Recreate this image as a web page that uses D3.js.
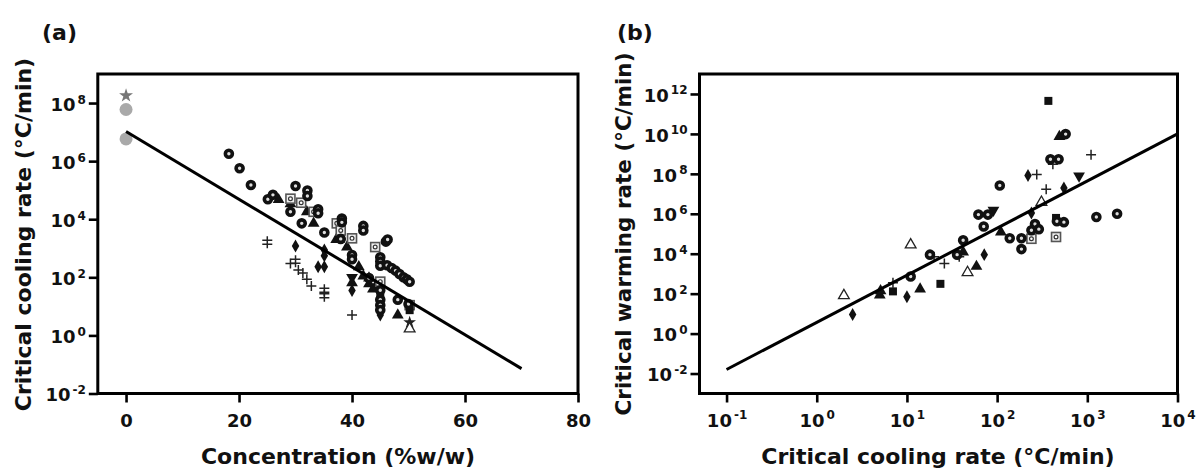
<!DOCTYPE html>
<html><head><meta charset="utf-8">
<script src="https://cdn.jsdelivr.net/npm/d3@7"></script>
<style>
body{margin:0;background:#fff}
text{font-family:"DejaVu Sans",sans-serif;font-weight:bold;fill:#111}
</style>
</head><body><svg id="c" width="1198" height="472"></svg>
<script>
// ---------------- Panel (a): concentration (%w/w) vs critical cooling rate (°C/min)
const aXTicks = [0, 20, 40, 60, 80];
const aYTickExps = [-2, 0, 2, 4, 6, 8];
const aRing = [[18.2,1.8e6],[20.1,5.7e5],[22.1,1.5e5],[25.1,4.9e4],[26.0,6.9e4],[29.1,1.8e4],[30.0,1.4e5],[31.1,7.2e3],[32.1,9.8e4],[32.1,6.3e4],[34.0,2.2e4],[34.0,1.6e4],[35.1,3.5e3],[38.0,2.1e3],[38.2,1.05e4],[38.2,7.8e3],[40.0,5.9e2],[40.0,4.2e2],[42.0,5.9e3],[42.0,4.1e3],[45.0,4.9e2],[45.0,3.5e2],[45.0,2.5e2],[46.0,1.7e3],[46.3,2.0e3],[46.2,2.6e2],[47.0,2.1e2],[47.7,1.7e2],[48.4,1.3e2],[49.1,1.0e2],[49.7,8.5e1],[50.2,7.0e1],[45.0,3.6e1],[45.0,1.7e1],[45.0,1.1e1],[45.0,7.5],[48.1,1.7e1],[43.0,9.5e1],[50.0,1.2e1]];
const aTri = [[27.0,4.7e4],[29.1,3.4e4],[32.0,1.8e4],[33.2,7.2e3],[37.2,2.0e3],[37.7,2.0e3],[39.1,1.1e3],[41.2,2.3e2],[42.0,1.1e2],[43.0,9.4e1],[43.0,5.9e1],[43.7,3.9e1],[44.1,4.6e1],[48.1,5.0],[40.0,6.5e1]];
const aInvTri = [[40.0,1.0e2]];
const aDotSq = [[29.1,5.1e4],[31.0,3.7e4],[33.2,1.8e4],[37.3,7.2e3],[38.0,4.1e3],[40.0,2.2e3],[44.1,1.1e3],[45.0,7.1e1],[50.2,1.1e1]];
const aSq = [[45.0,2.5e1],[50.2,7.4]];
const aDiamond = [[30.0,1.2e3],[35.1,8.7e2],[35.1,5.5e2],[34.0,2.3e2],[35.1,2.3e2],[40.0,3.5e1],[45.0,5.0]];
const aPlus = [[29.1,3.0e2],[30.5,1.8e2],[31.3,1.4e2],[32.0,8.5e1],[32.8,5.0e1],[40.0,5.0]];
const aDPlus = [[25.0,1.6e3],[30.0,3.6e2],[35.1,3.6e1],[35.1,2.3e1]];
const aStar = [[50.2,2.8]];
const aOpenTri = [[50.2,1.7]];
const aGrayStar = [[0,1.8e8]];
const aGrayCircle = [[0,6.0e7],[0,5.8e6]];
const aFit = [[0,1.05e7],[70,7.2e-2]];

// ---------------- Panel (b): critical cooling rate vs critical warming rate (°C/min)
const bXTickExps = [-1, 0, 1, 2, 3, 4];
const bYTickExps = [-2, 0, 2, 4, 6, 8, 10, 12];
const bRing = [[11,7.2e2],[18,9e3],[36,9e3],[42,4.7e4],[71,2.3e5],[62,9.1e5],[79,9.1e5],[107,2.6e7],[138,6e4],[186,6e4],[186,1.7e4],[263,3.1e5],[240,1.5e5],[290,1.7e5],[390,5.4e8],[480,5.4e8],[575,9.8e9],[460,4.2e5],[550,3.8e5],[1260,6.9e5],[2140,1.0e6]];
const bOpenTri = [[2.0,80],[11,2.8e4],[47,1.15e3],[310,3.8e6]];
const bDiamond = [[2.5,9],[10,70],[72,9e3],[220,8.3e7],[240,1.1e6],[550,1.95e7]];
const bTri = [[5,85],[5.1,1.4e2],[14,1.7e2],[42,1.2e4],[59,2.3e3],[110,1.2e5],[490,7.4e9]];
const bSq = [[7,1.3e2],[23.5,3.1e2],[370,4.5e11],[450,6.2e5]];
const bDotSq = [[240,5.6e4],[450,6.9e4]];
const bInvTri = [[91,1.5e6],[810,7.8e7]];
const bPlus = [[7,3.5e2],[20,7e3],[26,3.2e3],[38,7e3],[275,9.3e7],[350,1.7e7],[415,3.0e8],[1100,9.1e8]];
const bFit = [[0.1,1.6e-2],[1e4,1.0e10]];

const svg = d3.select("#c");

function marker(g, type, x, y) {
  const t = `translate(${x},${y})`;
  switch (type) {
    case "ring":
      g.append("circle").attr("cx", x).attr("cy", y).attr("r", 3.5)
        .attr("fill", "#ddd").attr("stroke", "#111").attr("stroke-width", 3.6); break;
    case "tri":
      g.append("path").attr("d", d3.symbol(d3.symbolTriangle, 60)()).attr("transform", t).attr("fill", "#111"); break;
    case "invtri":
      g.append("path").attr("d", d3.symbol(d3.symbolTriangle, 60)()).attr("transform", t + " rotate(180)").attr("fill", "#111"); break;
    case "opentri":
      g.append("path").attr("d", d3.symbol(d3.symbolTriangle, 50)()).attr("transform", t)
        .attr("fill", "#fff").attr("stroke", "#222").attr("stroke-width", 1.3); break;
    case "sq":
      g.append("path").attr("d", d3.symbol(d3.symbolSquare, 64)()).attr("transform", t).attr("fill", "#111"); break;
    case "dotsq":
      g.append("rect").attr("x", x - 4.5).attr("y", y - 4.5).attr("width", 9).attr("height", 9)
        .attr("fill", "#eee").attr("stroke", "#555").attr("stroke-width", 1.6);
      g.append("circle").attr("cx", x).attr("cy", y).attr("r", 1.9).attr("fill", "#fff")
        .attr("stroke", "#333").attr("stroke-width", 1.2); break;
    case "diamond":
      g.append("path").attr("d", d3.symbol(d3.symbolDiamond, 48)()).attr("transform", t).attr("fill", "#111"); break;
    case "plus":
      g.append("path").attr("d", "M-5,0H5M0,-5V5").attr("transform", t)
        .attr("stroke", "#222").attr("stroke-width", 1.5).attr("fill", "none"); break;
    case "dplus":
      g.append("path").attr("d", "M-5,-2H5M-5,2H5M0,-6V6").attr("transform", t)
        .attr("stroke", "#222").attr("stroke-width", 1.5).attr("fill", "none"); break;
    case "star":
      g.append("path").attr("d", d3.symbol(d3.symbolStar, 50)()).attr("transform", t).attr("fill", "#222"); break;
    case "graystar":
      g.append("path").attr("d", d3.symbol(d3.symbolStar, 60)()).attr("transform", t).attr("fill", "#777"); break;
    case "graycircle":
      g.append("circle").attr("cx", x).attr("cy", y).attr("r", 6.5).attr("fill", "#a9a9a9"); break;
  }
}

function supLabel(sel, exp) {
  sel.text(null);
  sel.append("tspan").text("10");
  sel.append("tspan").attr("font-size", "12px").attr("dy", "-0.6em").attr("dx", "2").text(exp);
}

function frame(g, L, R, T, B) {
  g.append("rect").attr("x", L).attr("y", T).attr("width", R - L).attr("height", B - T)
    .attr("fill", "none").attr("stroke", "#000").attr("stroke-width", 3);
}

function styleAxis(ax) {
  ax.select(".domain").remove();
  ax.selectAll(".tick line").attr("stroke", "#000").attr("stroke-width", 2.6);
}

// ===== Panel (a)
{
  const L = 97.8, R = 578, T = 74, B = 393.5;
  const x = d3.scaleLinear().domain([-5, 80]).range([L, R]);
  const y = d3.scaleLog().domain([1e-2, 1e9]).range([B, T]);
  const g = svg.append("g");
  frame(g, L, R, T, B);

  const xa = g.append("g").attr("transform", `translate(0,${B})`)
    .call(d3.axisBottom(x).tickValues(aXTicks).tickSize(9).tickSizeOuter(0).tickFormat(d3.format("d")));
  styleAxis(xa);
  xa.selectAll(".tick text").attr("font-size", "18px").attr("y", 33).attr("dy", 0)
    .attr("font-family", "DejaVu Sans").attr("font-weight", "bold").attr("fill", "#111");

  const ya = g.append("g").attr("transform", `translate(${L},0)`)
    .call(d3.axisLeft(y).tickValues(aYTickExps.map(e => Math.pow(10, e))).tickSize(9).tickSizeOuter(0));
  styleAxis(ya);
  ya.selectAll(".tick text").each(function(d, i) {
    const s = d3.select(this).attr("font-size", "18px").attr("x", -12).attr("dy", "0.4em")
      .attr("font-family", "DejaVu Sans").attr("font-weight", "bold").attr("fill", "#111");
    supLabel(s, aYTickExps[i]);
  });

  const series = [["graystar", aGrayStar], ["graycircle", aGrayCircle], ["plus", aPlus], ["dplus", aDPlus],
    ["diamond", aDiamond], ["tri", aTri], ["invtri", aInvTri], ["dotsq", aDotSq], ["sq", aSq],
    ["ring", aRing], ["star", aStar], ["opentri", aOpenTri]];
  const mg = g.append("g");
  series.forEach(([type, pts]) => pts.forEach(p => marker(mg, type, x(p[0]), y(p[1]))));

  g.append("path").datum(aFit)
    .attr("d", d3.line().x(d => x(d[0])).y(d => y(d[1])))
    .attr("stroke", "#000").attr("stroke-width", 3).attr("fill", "none");

  g.append("text").attr("x", 42).attr("y", 40).attr("font-size", "22px").text("(a)");
  g.append("text").attr("transform", "translate(31,234.5) rotate(-90)").attr("text-anchor", "middle")
    .attr("font-size", "22px").text("Critical cooling rate (°C/min)");
  g.append("text").attr("x", 338).attr("y", 464).attr("text-anchor", "middle")
    .attr("font-size", "22px").text("Concentration (%w/w)");
}

// ===== Panel (b)
{
  const L = 699.5, R = 1177.5, T = 74, B = 393.5;
  const x = d3.scaleLog().domain([Math.pow(10, -1.3), 1e4]).range([L, R]);
  const y = d3.scaleLog().domain([1e-3, 1e13]).range([B, T]);
  const g = svg.append("g");
  frame(g, L, R, T, B);

  const xa = g.append("g").attr("transform", `translate(0,${B})`)
    .call(d3.axisBottom(x).tickValues(bXTickExps.map(e => Math.pow(10, e))).tickSize(9).tickSizeOuter(0));
  styleAxis(xa);
  xa.selectAll(".tick text").each(function(d, i) {
    const s = d3.select(this).attr("font-size", "18px").attr("y", 33).attr("dy", 0)
      .attr("font-family", "DejaVu Sans").attr("font-weight", "bold").attr("fill", "#111");
    supLabel(s, bXTickExps[i]);
  });

  const ya = g.append("g").attr("transform", `translate(${L},0)`)
    .call(d3.axisLeft(y).tickValues(bYTickExps.map(e => Math.pow(10, e))).tickSize(9).tickSizeOuter(0));
  styleAxis(ya);
  ya.selectAll(".tick text").each(function(d, i) {
    const s = d3.select(this).attr("font-size", "18px").attr("x", -12).attr("dy", "0.4em")
      .attr("font-family", "DejaVu Sans").attr("font-weight", "bold").attr("fill", "#111");
    supLabel(s, bYTickExps[i]);
  });

  const series = [["plus", bPlus], ["diamond", bDiamond], ["tri", bTri], ["invtri", bInvTri],
    ["opentri", bOpenTri], ["sq", bSq], ["dotsq", bDotSq], ["ring", bRing]];
  const mg = g.append("g");
  series.forEach(([type, pts]) => pts.forEach(p => marker(mg, type, x(p[0]), y(p[1]))));

  g.append("path").datum(bFit)
    .attr("d", d3.line().x(d => x(d[0])).y(d => y(d[1])))
    .attr("stroke", "#000").attr("stroke-width", 3).attr("fill", "none");

  g.append("text").attr("x", 617).attr("y", 40).attr("font-size", "22px").text("(b)");
  g.append("text").attr("transform", "translate(631,234) rotate(-90)").attr("text-anchor", "middle")
    .attr("font-size", "21.5px").text("Critical warming rate (°C/min)");
  g.append("text").attr("x", 938).attr("y", 464).attr("text-anchor", "middle")
    .attr("font-size", "22px").text("Critical cooling rate (°C/min)");
}
</script></body></html>
